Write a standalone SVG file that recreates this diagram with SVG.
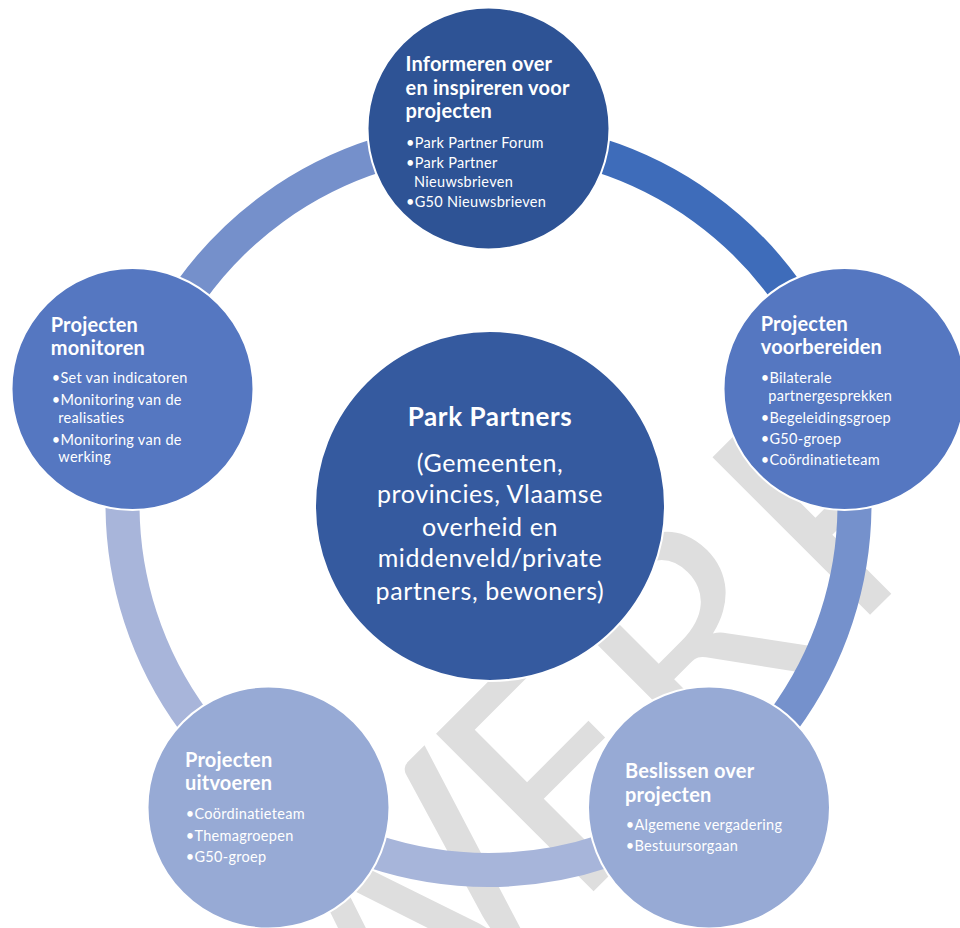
<svg xmlns="http://www.w3.org/2000/svg" width="960" height="928" viewBox="0 0 960 928">
<style>
.node circle{stroke:#fff;stroke-width:2}
.t{font-family:Lato,"Liberation Sans",sans-serif;font-weight:bold;font-size:20px;letter-spacing:0.2px;fill:#fff}
.b{font-family:Lato,"Liberation Sans",sans-serif;font-size:14.5px;letter-spacing:0.3px;fill:#fff}
.ct{font-family:Lato,"Liberation Sans",sans-serif;font-weight:bold;font-size:26px;letter-spacing:0.6px;fill:#fff;text-anchor:middle}
.cb{font-family:Lato,"Liberation Sans",sans-serif;font-size:25px;letter-spacing:0.6px;fill:#fff;text-anchor:middle}
.arc{fill:none;stroke-width:34}
.wm{font-family:Lato,"Liberation Sans",sans-serif;font-size:311px;fill:#DEDEDE}
</style>
<rect width="960" height="928" fill="#fff"/>
<g id="watermark" transform="rotate(-45)">
<text class="wm" x="-1191 -958 -731 -544 -239 -62 152" y="1050">ONTWERP</text>
</g>
<g id="connectors">
<path class="arc" stroke="#3E6CBA" d="M488.5 138 A366 366 0 0 1 836.6 390.9"/>
<path class="arc" stroke="#7591CC" d="M836.6 390.9 A366 366 0 0 1 703.6 800.1"/>
<path class="arc" stroke="#A7B5DA" d="M703.6 800.1 A366 366 0 0 1 273.4 800.1"/>
<path class="arc" stroke="#A8B5DA" d="M273.4 800.1 A366 366 0 0 1 140.4 390.9"/>
<path class="arc" stroke="#7590CB" d="M140.4 390.9 A366 366 0 0 1 488.5 138"/>
</g>
<g id="center" class="node">
<circle cx="490" cy="506" r="175" fill="#355A9F"/>
<text class="ct" x="490" y="426">Park Partners</text>
<text class="cb" x="490" y="471.7">(Gemeenten,</text>
<text class="cb" x="490" y="503.3">provincies, Vlaamse</text>
<text class="cb" x="490" y="536">overheid en</text>
<text class="cb" x="490" y="567.3">middenveld/private</text>
<text class="cb" x="490" y="600">partners, bewoners)</text>
</g>
<g id="informeren" class="node">
<circle cx="488.5" cy="128.5" r="121" fill="#2E5395"/>
<text class="t" x="405.5" y="71">Informeren over</text>
<text class="t" x="405.5" y="94.5">en inspireren voor</text>
<text class="t" x="405.5" y="118">projecten</text>
<text class="b" x="406" y="148.3">•Park Partner Forum</text>
<text class="b" x="406" y="168.3">•Park Partner</text>
<text class="b" x="414" y="186.7">Nieuwsbrieven</text>
<text class="b" x="406" y="206.7">•G50 Nieuwsbrieven</text>
</g>
<g id="voorbereiden" class="node">
<circle cx="844.5" cy="389" r="121" fill="#5577C1"/>
<text class="t" x="760.7" y="330.7">Projecten</text>
<text class="t" x="760.7" y="354">voorbereiden</text>
<text class="b" x="760.7" y="383.3">•Bilaterale</text>
<text class="b" x="768.3" y="400.7">partnergesprekken</text>
<text class="b" x="760.7" y="422.7">•Begeleidingsgroep</text>
<text class="b" x="760.7" y="444">•G50-groep</text>
<text class="b" x="760.7" y="465">•Coördinatieteam</text>
</g>
<g id="beslissen" class="node">
<circle cx="709" cy="807.5" r="121" fill="#97AAD5"/>
<text class="t" x="625" y="778.3">Beslissen over</text>
<text class="t" x="625" y="801.7">projecten</text>
<text class="b" x="625.7" y="830">•Algemene vergadering</text>
<text class="b" x="625.7" y="850.7">•Bestuursorgaan</text>
</g>
<g id="uitvoeren" class="node">
<circle cx="268.5" cy="807.5" r="121" fill="#97AAD5"/>
<text class="t" x="185" y="766.7">Projecten</text>
<text class="t" x="185" y="790">uitvoeren</text>
<text class="b" x="185.7" y="819.3">•Coördinatieteam</text>
<text class="b" x="185.7" y="840.7">•Themagroepen</text>
<text class="b" x="185.7" y="861.7">•G50-groep</text>
</g>
<g id="monitoren" class="node">
<circle cx="132.5" cy="389" r="121" fill="#5577C1"/>
<text class="t" x="50.7" y="331.7">Projecten</text>
<text class="t" x="50.7" y="355">monitoren</text>
<text class="b" x="51.7" y="383.3">•Set van indicatoren</text>
<text class="b" x="51.7" y="405">•Monitoring van de</text>
<text class="b" x="58.3" y="423.3">realisaties</text>
<text class="b" x="51.7" y="445">•Monitoring van de</text>
<text class="b" x="58.3" y="461.7">werking</text>
</g>
</svg>
